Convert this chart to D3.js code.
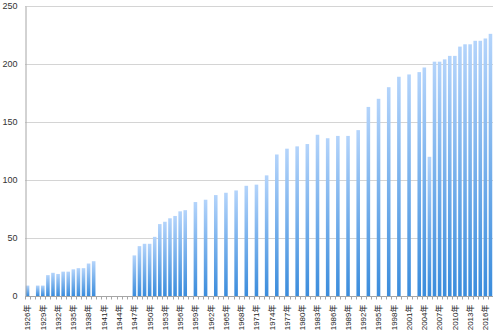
<!DOCTYPE html>
<html><head><meta charset="utf-8">
<script src="https://cdn.jsdelivr.net/npm/d3@7"></script>
<style>body{margin:0;background:#fff}svg{display:block}</style>
</head><body>
<svg id="c" width="500" height="332"></svg>
<script>
const years = d3.range(1926, 2018);
// null = no bar for that year
const values = [
  9,null,9,9,18,20,19,21,21,23,24,24,28,30,        // 1926-1939
  null,null,null,null,null,null,null,              // 1940-1946
  35,43,45,45,51,62,64,67,69,73,74,                 // 1947-1957
  null,81,null,83,null,87,null,89,null,91,null,95,null,96,null,104, // 1958-1973
  null,122,null,127,null,129,null,131,null,139,null,136,null,138,null,138, // 1974-1989
  null,143,null,163,null,170,null,180,null,189,null,191,null, // 1990-2002
  193,197,120,202,202,204,207,207,215,217,217,220,220,222,226 // 2003-2017
];
const tickYears = d3.range(1926, 2018, 3);
const yTicks = [0, 50, 100, 150, 200, 250];

const svg = d3.select("#c");
const m = {l: 25, r: 7, t: 6, b: 36};
const W = 500, H = 332;
const x = d3.scaleBand().domain(years).range([m.l, W - m.r]).paddingInner(0.3).paddingOuter(0.15);
const y = d3.scaleLinear().domain([0, 250]).range([H - m.b, m.t]);

const defs = svg.append("defs");
const g = defs.append("linearGradient").attr("id", "bg").attr("x1", 0).attr("y1", 0).attr("x2", 0).attr("y2", 1);
g.append("stop").attr("offset", "0%").attr("stop-color", "#b4d4fb");
g.append("stop").attr("offset", "100%").attr("stop-color", "#3a8cdc");

// gridlines
svg.append("g").selectAll("line").data(yTicks.filter(d => d > 0)).join("line")
  .attr("x1", m.l).attr("x2", W - m.r)
  .attr("y1", d => y(d) + 0.5).attr("y2", d => y(d) + 0.5)
  .attr("stroke", "#d4d4d4").attr("stroke-width", 1);

// bars
const data = years.map((yr, i) => ({yr, v: values[i]})).filter(d => d.v != null);
svg.append("g").selectAll("rect").data(data).join("rect")
  .attr("x", d => x(d.yr)).attr("width", x.bandwidth())
  .attr("y", d => y(d.v)).attr("height", d => y(0) - y(d.v))
  .attr("fill", "url(#bg)");

// y axis
const ya = svg.append("g").attr("transform", `translate(${m.l + 0.5},0)`)
  .call(d3.axisLeft(y).tickValues(yTicks).tickSize(0).tickPadding(8));
ya.select(".domain").attr("stroke", "#a6a6a6");
ya.selectAll("text").attr("font-family", "'Liberation Sans', Arial, sans-serif").attr("font-size", 9).attr("fill", "#333");

// x axis
const step = x.step();
const xa = svg.append("g").attr("transform", `translate(0,${y(0) + 0.5})`);
xa.append("line").attr("x1", m.l).attr("x2", W - m.r).attr("stroke", "#a6a6a6");
xa.selectAll("line.t").data(years).join("line").attr("class", "t")
  .attr("x1", d => Math.round(x(d) - step * 0.15) + 0.5).attr("x2", d => Math.round(x(d) - step * 0.15) + 0.5)
  .attr("y1", 0).attr("y2", 3).attr("stroke", "#a6a6a6");
xa.selectAll("text").data(tickYears).join("text")
  .attr("transform", d => `translate(${x(d) + x.bandwidth() / 2 + 2.9},8) rotate(-90)`)
  .attr("text-anchor", "end")
  .attr("font-family", "'Liberation Sans', 'Noto Sans CJK JP', sans-serif")
  .attr("font-size", 8).attr("fill", "#1a1a1a")
  .text(d => d + "年");
</script>
</body></html>
